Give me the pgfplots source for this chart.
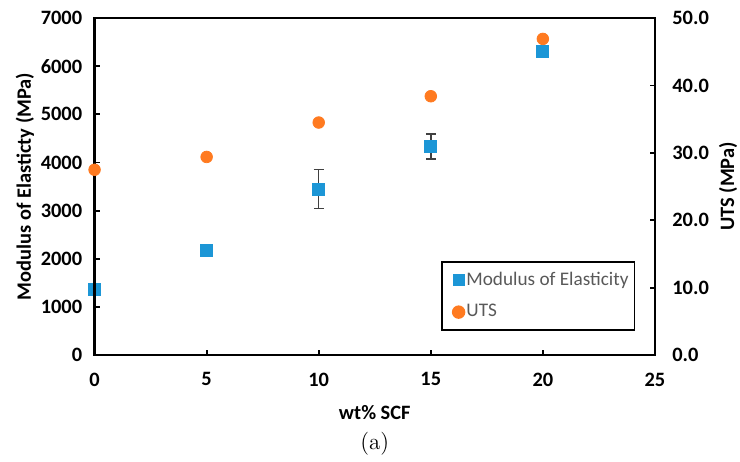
\documentclass[border=0pt]{standalone}
\usepackage{pgfplots}
\pgfplotsset{compat=1.18}
\usepackage{fontspec}
\newfontfamily\calib{Carlito}
\definecolor{mblue}{RGB}{28,150,214}
\definecolor{uorange}{RGB}{255,122,32}
\definecolor{ebar}{RGB}{64,64,64}
\definecolor{legtext}{RGB}{89,89,89}
\begin{document}
\begin{tikzpicture}
\pgfplotsset{
  common/.style={
    width=280pt, height=168.5pt, scale only axis,
    xmin=0, xmax=25,
    tick style={line width=0.9pt, black}, major tick length=2.5pt,
    tick align=inside,
    ticklabel style={font=\calib\bfseries\fontsize{10.2}{12}\selectfont},
    label style={font=\calib\bfseries\fontsize{10.2}{12}\selectfont},
    /pgf/number format/assume math mode=true,
    /pgf/number format/1000 sep={},
    axis line style={line width=1.1pt},
  }
}
\begin{axis}[common,
  ymin=0, ymax=7000, ytick={0,1000,...,7000},
  xtick={0,5,...,25},
  xtick pos=bottom, ytick pos=left,
  yticklabel style={anchor=east, inner sep=0pt, xshift=-6pt},
  xticklabel style={anchor=north, inner sep=0pt, yshift=-8.5pt},
  xlabel={wt\% SCF},
  xlabel style={at={(axis description cs:0.5,-0.1691)}, anchor=center},
  ylabel={Modulus of Elasticty (MPa)},
  ylabel style={at={(axis description cs:-0.1241,0.5)}, anchor=center},
]
\addplot[only marks, mark=square*, mark options={fill=mblue, draw=mblue}, mark size=3pt,
  error bars/.cd, y dir=both, y explicit,
  error bar style={ebar, line width=0.75pt},
  error mark options={rotate=90, ebar, mark size=2.5pt, line width=0.75pt}]
  coordinates {
  (0,1365) +- (0,30)
  (5,2170) +- (0,60)
  (10,3450) +- (0,405)
  (15,4335) +- (0,260)
  (20,6315) +- (0,40)
};
\coordinate (sw) at (rel axis cs:0,0);
\coordinate (ne) at (rel axis cs:1,1);
\end{axis}
\begin{axis}[common,
  ymin=0, ymax=50, ytick={0,10,...,50},
  xtick=\empty, ytick pos=right,
  yticklabel style={anchor=west, inner sep=0pt, xshift=8.5pt,
    /pgf/number format/.cd, fixed, fixed zerofill, precision=1},
  ylabel={UTS (MPa)},
  ylabel style={at={(axis description cs:1.1304,0.5)}, anchor=center, rotate=0},
  legend style={at={(rel axis cs:0.619,0.279)}, anchor=north west,
    draw=black, line width=0.9pt, fill=white,
    font=\calib\fontsize{9.6}{11}\selectfont, text=legtext,
    inner xsep=2pt, inner ysep=4pt, row sep=6pt,
    nodes={inner sep=1pt}},
  legend cell align=left,
  legend image code/.code={\path (0cm,0cm); \draw[#1] plot coordinates {(0.2cm,0cm)};},
]
\addlegendimage{only marks, mark=square*, mark options={fill=mblue, draw=mblue}, mark size=2.6pt}
\addlegendentry{Modulus of Elasticity\hspace{4pt}}
\addplot[only marks, mark=*, mark options={fill=uorange, draw=uorange}, mark size=2.9pt]
  coordinates {
  (0,27.5)
  (5,29.4)
  (10,34.5)
  (15,38.4)
  (20,46.9)
};
\addlegendentry{UTS}
\end{axis}
\path (sw) ++(140pt,-44pt) node[font=\fontsize{11.5}{13}\selectfont] {(a)};
\pgfresetboundingbox
\path (sw) ++(-47.25pt,-53pt) coordinate (bb1);
\path (ne) ++(42.5pt,9pt) coordinate (bb2);
\path (bb1) rectangle (bb2);
\end{tikzpicture}
\end{document}
